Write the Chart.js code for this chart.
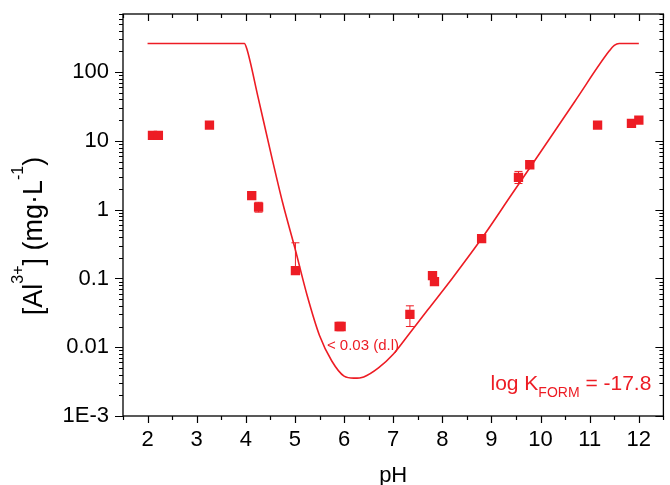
<!DOCTYPE html>
<html>
<head>
<meta charset="utf-8">
<script src="https://cdn.jsdelivr.net/npm/chart.js@4.4.0/dist/chart.umd.min.js"></script>
<style>
html,body{margin:0;padding:0;background:#fff}
#wrap{width:670px;height:485px}
</style>
</head>
<body>
<div id="wrap"><canvas id="c" width="670" height="485"></canvas></div>
<script>
const RED="rgb(237,28,36)";
const FONT='"Liberation Sans", Arial, Helvetica, sans-serif';

// measured Al3+ (mg/L) vs pH
const phObs=[2.10,2.22,3.26,4.12,4.26,5.01,5.90,5.94,7.34,7.80,7.84,8.80,9.55,9.78,11.16,11.85,12.00];
const alObs=[12,12,17,1.6,1.09,0.13,0.020,0.020,0.030,0.11,0.09,0.38,2.95,4.5,17,18,20];
const alLow=[null,null,null,null,0.92,null,null,null,0.020,null,null,null,2.4,null,null,null,null];
const alHigh=[null,null,null,null,1.28,0.33,null,null,0.040,null,null,null,3.6,null,null,null,null];

// model curve, log K_FORM = -17.8
const phFit=[2.0,3.97,4.02,4.25,4.5,4.75,5.0,5.25,5.5,5.75,6.0,6.2,6.4,6.7,7.0,7.3,7.7,8.2,8.8,9.4,10.0,10.7,11.4,11.5,11.6,12.0];
const alFit=[261,261,219,43,7.1,1.26,0.275,0.056,0.0148,0.0063,0.0038,0.00355,0.0037,0.0050,0.0079,0.0148,0.0347,0.100,0.38,1.62,6.9,37.8,204,245,261,261];

const xTicks=[2,3,4,5,6,7,8,9,10,11,12];
const yTicks=[0.001,0.01,0.1,1,10,100];
const yTickLabels=["1E-3","0.01","0.1","1","10","100"];

// error bars under the squares
const errBars={
  id:"errBars",
  beforeDatasetsDraw(chart){
    const {ctx,scales:{x,y}}=chart;
    ctx.save();ctx.strokeStyle=RED;ctx.lineWidth=1;
    phObs.forEach((p,i)=>{
      if(alLow[i]==null&&alHigh[i]==null)return;
      const px=x.getPixelForValue(p),yc=y.getPixelForValue(alObs[i]);
      const y1=alHigh[i]!=null?y.getPixelForValue(alHigh[i]):yc;
      const y2=alLow[i]!=null?y.getPixelForValue(alLow[i]):yc;
      ctx.beginPath();ctx.moveTo(px,y1);ctx.lineTo(px,y2);
      if(alHigh[i]!=null){ctx.moveTo(px-4,y1);ctx.lineTo(px+4,y1);}
      if(alLow[i]!=null){ctx.moveTo(px-4,y2);ctx.lineTo(px+4,y2);}
      ctx.stroke();
    });
    ctx.restore();
  }
};

// box, ticks on all four sides, titles and notes
const frame={
  id:"frame",
  afterDraw(chart){
    const {ctx,chartArea:a,scales:{x,y}}=chart;
    ctx.save();
    ctx.strokeStyle="#000";ctx.lineWidth=1.3;
    ctx.strokeRect(a.left,a.top,a.right-a.left,a.bottom-a.top);
    ctx.lineWidth=1.2;ctx.beginPath();
    for(let v=1.5;v<=12.5;v+=0.5){
      const px=Math.round(x.getPixelForValue(v))+0.5;
      const len=Number.isInteger(v)?7:4;
      ctx.moveTo(px,a.bottom);ctx.lineTo(px,a.bottom+len);
      ctx.moveTo(px,a.top);ctx.lineTo(px,a.top+len);
    }
    for(let e=-3;e<=2;e++){
      for(let k=1;k<10;k++){
        const v=k*Math.pow(10,e);
        if(v>y.max)break;
        const py=Math.round(y.getPixelForValue(v))+0.5;
        const len=k===1?8:4;
        ctx.moveTo(a.left,py);ctx.lineTo(a.left-len,py);
        ctx.moveTo(a.right,py);ctx.lineTo(a.right-len,py);
      }
    }
    ctx.stroke();

    // axis titles
    ctx.fillStyle="#000";
    ctx.font="22px "+FONT;ctx.textAlign="center";ctx.textBaseline="alphabetic";
    ctx.fillText("pH",(a.left+a.right)/2,482);
    ctx.save();
    ctx.translate(42,236);ctx.rotate(-Math.PI/2);
    const parts=[["[Al",27,0],["3+",16,-19],["] (mg·L",27,0],["-1",16,-19],[")",27,0]];
    let w=0;
    parts.forEach(p=>{ctx.font=p[1]+"px "+FONT;w+=ctx.measureText(p[0]).width;});
    let cx=-w/2;ctx.textAlign="left";
    parts.forEach(p=>{ctx.font=p[1]+"px "+FONT;ctx.fillText(p[0],cx,p[2]);cx+=ctx.measureText(p[0]).width;});
    ctx.restore();

    // notes
    ctx.fillStyle=RED;ctx.textAlign="left";
    ctx.font="15px "+FONT;
    ctx.fillText("< 0.03 (d.l)",x.getPixelForValue(5.65),y.getPixelForValue(0.009));
    let lx=x.getPixelForValue(8.98);const ly=y.getPixelForValue(0.0024);
    ctx.font="21px "+FONT;ctx.fillText("log K",lx,ly);lx+=ctx.measureText("log K").width;
    ctx.font="14px "+FONT;ctx.fillText("FORM",lx,ly+7);lx+=ctx.measureText("FORM").width;
    ctx.font="21px "+FONT;ctx.fillText(" = -17.8",lx,ly);
    ctx.restore();
  }
};

new Chart(document.getElementById("c"),{
  type:"line",
  data:{
    datasets:[
      {data:phFit.map((p,i)=>({x:p,y:alFit[i]})),borderColor:RED,borderWidth:1.6,pointRadius:0,cubicInterpolationMode:"monotone",fill:false},
      {data:phObs.map((p,i)=>({x:p,y:alObs[i]})),showLine:false,pointStyle:"rect",pointRadius:6.6,pointBorderWidth:0,pointBackgroundColor:RED,pointBorderColor:RED}
    ]
  },
  options:{
    responsive:false,animation:false,
    layout:{padding:{left:0,top:14,right:1,bottom:0}},
    plugins:{legend:{display:false},tooltip:{enabled:false}},
    scales:{
      x:{type:"linear",min:1.5,max:12.5,
        afterBuildTicks:s=>{s.ticks=xTicks.map(v=>({value:v}));},
        afterFit:s=>{s.height=69;s.paddingLeft=0;s.paddingRight=0;},
        grid:{display:false,drawTicks:false},border:{display:false},
        ticks:{color:"#000",font:{family:FONT,size:22},padding:11,maxRotation:0,autoSkip:false}},
      y:{type:"logarithmic",min:0.001,max:700,
        afterBuildTicks:s=>{s.ticks=yTicks.map(v=>({value:v}));},
        afterFit:s=>{s.width=123;s.paddingTop=0;s.paddingBottom=0;},
        grid:{display:false,drawTicks:false},border:{display:false},
        ticks:{color:"#000",font:{family:FONT,size:22},padding:14,autoSkip:false,
          callback:v=>yTickLabels[yTicks.indexOf(v)]}}
    }
  },
  plugins:[errBars,frame]
});
</script>
</body>
</html>
